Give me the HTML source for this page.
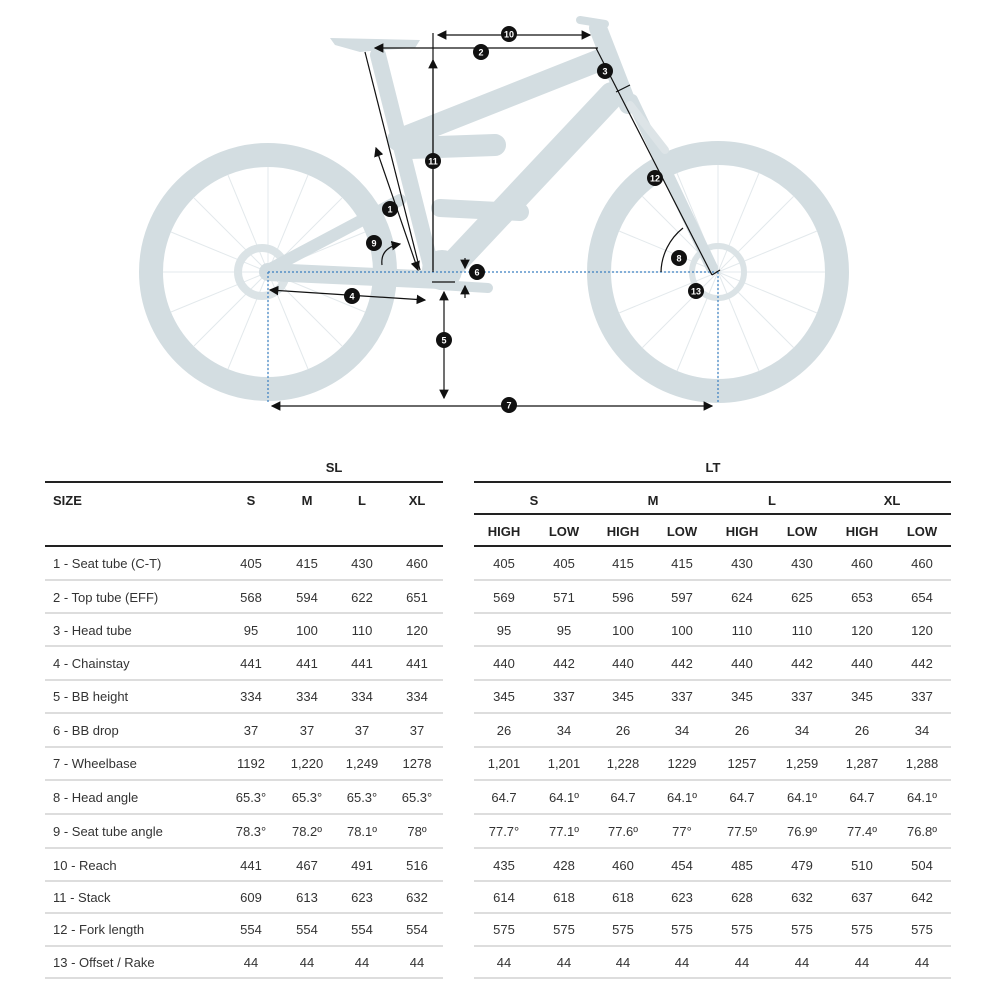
<!DOCTYPE html>
<html><head><meta charset="utf-8"><style>
html,body{margin:0;padding:0;background:#fff;}
svg{display:block;}
text{font-family:"Liberation Sans",Arial,sans-serif;fill:#222;}
.h{font-weight:bold;font-size:13px;}
.d{font-size:13px;fill:#333;}
.n{font-size:9px;font-weight:bold;fill:#fff;}
</style></head><body>
<svg width="1000" height="1000" viewBox="0 0 1000 1000" xmlns="http://www.w3.org/2000/svg">
<defs>
<marker id="a" markerWidth="8" markerHeight="8" refX="7" refY="4" orient="auto-start-reverse"><path d="M0,0 L8,4 L0,8 z" fill="#111"/></marker>
</defs>
<!-- bike -->
<g fill="none" stroke="#d3dde1">
<circle cx="268" cy="272" r="117" stroke-width="24"/>
<circle cx="718" cy="272" r="119" stroke-width="24"/>
<g stroke-width="1" stroke="#e3e9ec">
<path d="M268,272 L268,167 M268,272 L268,377 M268,272 L163,272 M268,272 L373,272 M268,272 L194,198 M268,272 L342,346 M268,272 L342,198 M268,272 L194,346 M268,272 L228,175 M268,272 L308,369 M268,272 L171,232 M268,272 L365,312 M268,272 L308,175 M268,272 L228,369 M268,272 L171,312 M268,272 L365,232"/>
<path d="M718,272 L718,165 M718,272 L718,379 M718,272 L611,272 M718,272 L825,272 M718,272 L642,196 M718,272 L794,348 M718,272 L794,196 M718,272 L642,348 M718,272 L677,173 M718,272 L759,371 M718,272 L619,231 M718,272 L817,313 M718,272 L759,173 M718,272 L677,371 M718,272 L619,313 M718,272 L817,231"/>
</g>
<circle cx="262" cy="272" r="24" stroke-width="8" stroke="#dbe3e6"/>
<circle cx="718" cy="272" r="26" stroke-width="6" stroke="#dbe3e6"/>
</g>
<g stroke="#d3dde1" stroke-linecap="round" fill="none">
<line x1="378" y1="55" x2="432" y2="270" stroke-width="16"/>
<line x1="398" y1="140" x2="600" y2="60" stroke-width="22"/>
<line x1="598" y1="28" x2="628" y2="105" stroke-width="18"/>
<line x1="612" y1="95" x2="455" y2="262" stroke-width="26"/>
<line x1="632" y1="100" x2="712" y2="268" stroke-width="12"/>
<line x1="630" y1="105" x2="665" y2="150" stroke-width="8" stroke="#dde4e7"/>
<line x1="410" y1="148" x2="495" y2="145" stroke-width="22"/>
<line x1="440" y1="208" x2="520" y2="212" stroke-width="18"/>
<line x1="268" y1="272" x2="440" y2="280" stroke-width="18"/>
<line x1="272" y1="268" x2="400" y2="200" stroke-width="12"/>
<line x1="440" y1="285" x2="488" y2="288" stroke-width="10"/>
<line x1="580" y1="20" x2="605" y2="24" stroke-width="8"/>
</g>
<g fill="#d3dde1">
<path d="M330,38 L420,40 L415,48 L380,50 L360,52 L335,45 Z"/>
<circle cx="442" cy="270" r="20"/>
</g>
<!-- annotations -->
<g stroke="#111" stroke-width="1.2" fill="none">
<line x1="268" y1="272" x2="718" y2="272" stroke="#3a7fc0" stroke-dasharray="2,2"/>
<line x1="268" y1="272" x2="268" y2="402" stroke="#3a7fc0" stroke-dasharray="2,2"/>
<line x1="718" y1="272" x2="718" y2="402" stroke="#3a7fc0" stroke-dasharray="2,2"/>
<line x1="598" y1="48" x2="375" y2="48" marker-end="url(#a)"/>
<line x1="433" y1="33" x2="433" y2="272"/>
<line x1="438" y1="35" x2="590" y2="35" marker-start="url(#a)" marker-end="url(#a)"/>
<line x1="433" y1="270" x2="433" y2="60" marker-end="url(#a)"/>
<line x1="365" y1="52" x2="420" y2="270"/>
<line x1="376" y1="148" x2="418" y2="270" marker-start="url(#a)" marker-end="url(#a)"/>
<line x1="596" y1="48" x2="712" y2="275"/>
<line x1="270" y1="290" x2="425" y2="300" marker-start="url(#a)" marker-end="url(#a)"/>
<line x1="444" y1="292" x2="444" y2="398" marker-start="url(#a)" marker-end="url(#a)"/>
<line x1="272" y1="406" x2="712" y2="406" marker-start="url(#a)" marker-end="url(#a)"/>
<line x1="432" y1="282" x2="455" y2="282"/>
<path d="M661,272 A58,58 0 0 1 683,228"/>
<path d="M382,265 Q380,248 400,244" marker-end="url(#a)"/>
<line x1="465" y1="258" x2="465" y2="268" marker-end="url(#a)"/>
<line x1="465" y1="298" x2="465" y2="286" marker-end="url(#a)"/>
<line x1="616" y1="92" x2="630" y2="85"/>
<line x1="712" y1="275" x2="720" y2="270"/>
</g>
<g>
<circle cx="509" cy="34" r="8" fill="#111"/><text x="509" y="37.5" class="n" text-anchor="middle">10</text>
<circle cx="481" cy="52" r="8" fill="#111"/><text x="481" y="55.5" class="n" text-anchor="middle">2</text>
<circle cx="605" cy="71" r="8" fill="#111"/><text x="605" y="74.5" class="n" text-anchor="middle">3</text>
<circle cx="433" cy="161" r="8" fill="#111"/><text x="433" y="164.5" class="n" text-anchor="middle">11</text>
<circle cx="655" cy="178" r="8" fill="#111"/><text x="655" y="181.5" class="n" text-anchor="middle">12</text>
<circle cx="390" cy="209" r="8" fill="#111"/><text x="390" y="212.5" class="n" text-anchor="middle">1</text>
<circle cx="374" cy="243" r="8" fill="#111"/><text x="374" y="246.5" class="n" text-anchor="middle">9</text>
<circle cx="679" cy="258" r="8" fill="#111"/><text x="679" y="261.5" class="n" text-anchor="middle">8</text>
<circle cx="477" cy="272" r="8" fill="#111"/><text x="477" y="275.5" class="n" text-anchor="middle">6</text>
<circle cx="696" cy="291" r="8" fill="#111"/><text x="696" y="294.5" class="n" text-anchor="middle">13</text>
<circle cx="352" cy="296" r="8" fill="#111"/><text x="352" y="299.5" class="n" text-anchor="middle">4</text>
<circle cx="444" cy="340" r="8" fill="#111"/><text x="444" y="343.5" class="n" text-anchor="middle">5</text>
<circle cx="509" cy="405" r="8" fill="#111"/><text x="509" y="408.5" class="n" text-anchor="middle">7</text>
</g>
<!-- table lines -->
<g stroke="#222" stroke-width="2">
<line x1="45" y1="482" x2="443" y2="482"/>
<line x1="474" y1="482" x2="951" y2="482"/>
<line x1="474" y1="514" x2="951" y2="514"/>
<line x1="45" y1="546" x2="443" y2="546"/>
<line x1="474" y1="546" x2="951" y2="546"/>
</g>
<g stroke="#bbb" stroke-width="1">
<line x1="45" y1="580" x2="443" y2="580"/><line x1="474" y1="580" x2="951" y2="580"/>
<line x1="45" y1="613" x2="443" y2="613"/><line x1="474" y1="613" x2="951" y2="613"/>
<line x1="45" y1="646" x2="443" y2="646"/><line x1="474" y1="646" x2="951" y2="646"/>
<line x1="45" y1="680" x2="443" y2="680"/><line x1="474" y1="680" x2="951" y2="680"/>
<line x1="45" y1="713" x2="443" y2="713"/><line x1="474" y1="713" x2="951" y2="713"/>
<line x1="45" y1="747" x2="443" y2="747"/><line x1="474" y1="747" x2="951" y2="747"/>
<line x1="45" y1="780" x2="443" y2="780"/><line x1="474" y1="780" x2="951" y2="780"/>
<line x1="45" y1="814" x2="443" y2="814"/><line x1="474" y1="814" x2="951" y2="814"/>
<line x1="45" y1="848" x2="443" y2="848"/><line x1="474" y1="848" x2="951" y2="848"/>
<line x1="45" y1="881" x2="443" y2="881"/><line x1="474" y1="881" x2="951" y2="881"/>
<line x1="45" y1="913" x2="443" y2="913"/><line x1="474" y1="913" x2="951" y2="913"/>
<line x1="45" y1="946" x2="443" y2="946"/><line x1="474" y1="946" x2="951" y2="946"/>
<line x1="45" y1="978" x2="443" y2="978"/><line x1="474" y1="978" x2="951" y2="978"/>
</g>
<g class="h" text-anchor="middle">
<text x="334" y="472" class="h">SL</text>
<text x="713" y="472" class="h">LT</text>
<text x="53" y="505" class="h" text-anchor="start">SIZE</text>
<text x="251" y="505" class="h">S</text><text x="307" y="505" class="h">M</text><text x="362" y="505" class="h">L</text><text x="417" y="505" class="h">XL</text>
<text x="534" y="505" class="h">S</text><text x="653" y="505" class="h">M</text><text x="772" y="505" class="h">L</text><text x="892" y="505" class="h">XL</text>
<text x="504" y="536" class="h">HIGH</text><text x="564" y="536" class="h">LOW</text>
<text x="623" y="536" class="h">HIGH</text><text x="682" y="536" class="h">LOW</text>
<text x="742" y="536" class="h">HIGH</text><text x="802" y="536" class="h">LOW</text>
<text x="862" y="536" class="h">HIGH</text><text x="922" y="536" class="h">LOW</text>
</g>
<g class="d">
<text x="53" y="568" class="d">1 - Seat tube (C-T)</text>
<text x="53" y="602" class="d">2 - Top tube (EFF)</text>
<text x="53" y="635" class="d">3 - Head tube</text>
<text x="53" y="668" class="d">4 - Chainstay</text>
<text x="53" y="701" class="d">5 - BB height</text>
<text x="53" y="735" class="d">6 - BB drop</text>
<text x="53" y="768" class="d">7 - Wheelbase</text>
<text x="53" y="802" class="d">8 - Head angle</text>
<text x="53" y="836" class="d">9 - Seat tube angle</text>
<text x="53" y="870" class="d">10 - Reach</text>
<text x="53" y="902" class="d">11 - Stack</text>
<text x="53" y="934" class="d">12 - Fork length</text>
<text x="53" y="967" class="d">13 - Offset / Rake</text>
</g>
<g class="d" text-anchor="middle">
<g transform="translate(0,568)"><text x="251" class="d">405</text><text x="307" class="d">415</text><text x="362" class="d">430</text><text x="417" class="d">460</text><text x="504" class="d">405</text><text x="564" class="d">405</text><text x="623" class="d">415</text><text x="682" class="d">415</text><text x="742" class="d">430</text><text x="802" class="d">430</text><text x="862" class="d">460</text><text x="922" class="d">460</text></g>
<g transform="translate(0,602)"><text x="251" class="d">568</text><text x="307" class="d">594</text><text x="362" class="d">622</text><text x="417" class="d">651</text><text x="504" class="d">569</text><text x="564" class="d">571</text><text x="623" class="d">596</text><text x="682" class="d">597</text><text x="742" class="d">624</text><text x="802" class="d">625</text><text x="862" class="d">653</text><text x="922" class="d">654</text></g>
<g transform="translate(0,635)"><text x="251" class="d">95</text><text x="307" class="d">100</text><text x="362" class="d">110</text><text x="417" class="d">120</text><text x="504" class="d">95</text><text x="564" class="d">95</text><text x="623" class="d">100</text><text x="682" class="d">100</text><text x="742" class="d">110</text><text x="802" class="d">110</text><text x="862" class="d">120</text><text x="922" class="d">120</text></g>
<g transform="translate(0,668)"><text x="251" class="d">441</text><text x="307" class="d">441</text><text x="362" class="d">441</text><text x="417" class="d">441</text><text x="504" class="d">440</text><text x="564" class="d">442</text><text x="623" class="d">440</text><text x="682" class="d">442</text><text x="742" class="d">440</text><text x="802" class="d">442</text><text x="862" class="d">440</text><text x="922" class="d">442</text></g>
<g transform="translate(0,701)"><text x="251" class="d">334</text><text x="307" class="d">334</text><text x="362" class="d">334</text><text x="417" class="d">334</text><text x="504" class="d">345</text><text x="564" class="d">337</text><text x="623" class="d">345</text><text x="682" class="d">337</text><text x="742" class="d">345</text><text x="802" class="d">337</text><text x="862" class="d">345</text><text x="922" class="d">337</text></g>
<g transform="translate(0,735)"><text x="251" class="d">37</text><text x="307" class="d">37</text><text x="362" class="d">37</text><text x="417" class="d">37</text><text x="504" class="d">26</text><text x="564" class="d">34</text><text x="623" class="d">26</text><text x="682" class="d">34</text><text x="742" class="d">26</text><text x="802" class="d">34</text><text x="862" class="d">26</text><text x="922" class="d">34</text></g>
<g transform="translate(0,768)"><text x="251" class="d">1192</text><text x="307" class="d">1,220</text><text x="362" class="d">1,249</text><text x="417" class="d">1278</text><text x="504" class="d">1,201</text><text x="564" class="d">1,201</text><text x="623" class="d">1,228</text><text x="682" class="d">1229</text><text x="742" class="d">1257</text><text x="802" class="d">1,259</text><text x="862" class="d">1,287</text><text x="922" class="d">1,288</text></g>
<g transform="translate(0,802)"><text x="251" class="d">65.3°</text><text x="307" class="d">65.3°</text><text x="362" class="d">65.3°</text><text x="417" class="d">65.3°</text><text x="504" class="d">64.7</text><text x="564" class="d">64.1º</text><text x="623" class="d">64.7</text><text x="682" class="d">64.1º</text><text x="742" class="d">64.7</text><text x="802" class="d">64.1º</text><text x="862" class="d">64.7</text><text x="922" class="d">64.1º</text></g>
<g transform="translate(0,836)"><text x="251" class="d">78.3°</text><text x="307" class="d">78.2º</text><text x="362" class="d">78.1º</text><text x="417" class="d">78º</text><text x="504" class="d">77.7°</text><text x="564" class="d">77.1º</text><text x="623" class="d">77.6º</text><text x="682" class="d">77°</text><text x="742" class="d">77.5º</text><text x="802" class="d">76.9º</text><text x="862" class="d">77.4º</text><text x="922" class="d">76.8º</text></g>
<g transform="translate(0,870)"><text x="251" class="d">441</text><text x="307" class="d">467</text><text x="362" class="d">491</text><text x="417" class="d">516</text><text x="504" class="d">435</text><text x="564" class="d">428</text><text x="623" class="d">460</text><text x="682" class="d">454</text><text x="742" class="d">485</text><text x="802" class="d">479</text><text x="862" class="d">510</text><text x="922" class="d">504</text></g>
<g transform="translate(0,902)"><text x="251" class="d">609</text><text x="307" class="d">613</text><text x="362" class="d">623</text><text x="417" class="d">632</text><text x="504" class="d">614</text><text x="564" class="d">618</text><text x="623" class="d">618</text><text x="682" class="d">623</text><text x="742" class="d">628</text><text x="802" class="d">632</text><text x="862" class="d">637</text><text x="922" class="d">642</text></g>
<g transform="translate(0,934)"><text x="251" class="d">554</text><text x="307" class="d">554</text><text x="362" class="d">554</text><text x="417" class="d">554</text><text x="504" class="d">575</text><text x="564" class="d">575</text><text x="623" class="d">575</text><text x="682" class="d">575</text><text x="742" class="d">575</text><text x="802" class="d">575</text><text x="862" class="d">575</text><text x="922" class="d">575</text></g>
<g transform="translate(0,967)"><text x="251" class="d">44</text><text x="307" class="d">44</text><text x="362" class="d">44</text><text x="417" class="d">44</text><text x="504" class="d">44</text><text x="564" class="d">44</text><text x="623" class="d">44</text><text x="682" class="d">44</text><text x="742" class="d">44</text><text x="802" class="d">44</text><text x="862" class="d">44</text><text x="922" class="d">44</text></g>
</g>
</svg>
</body></html>
